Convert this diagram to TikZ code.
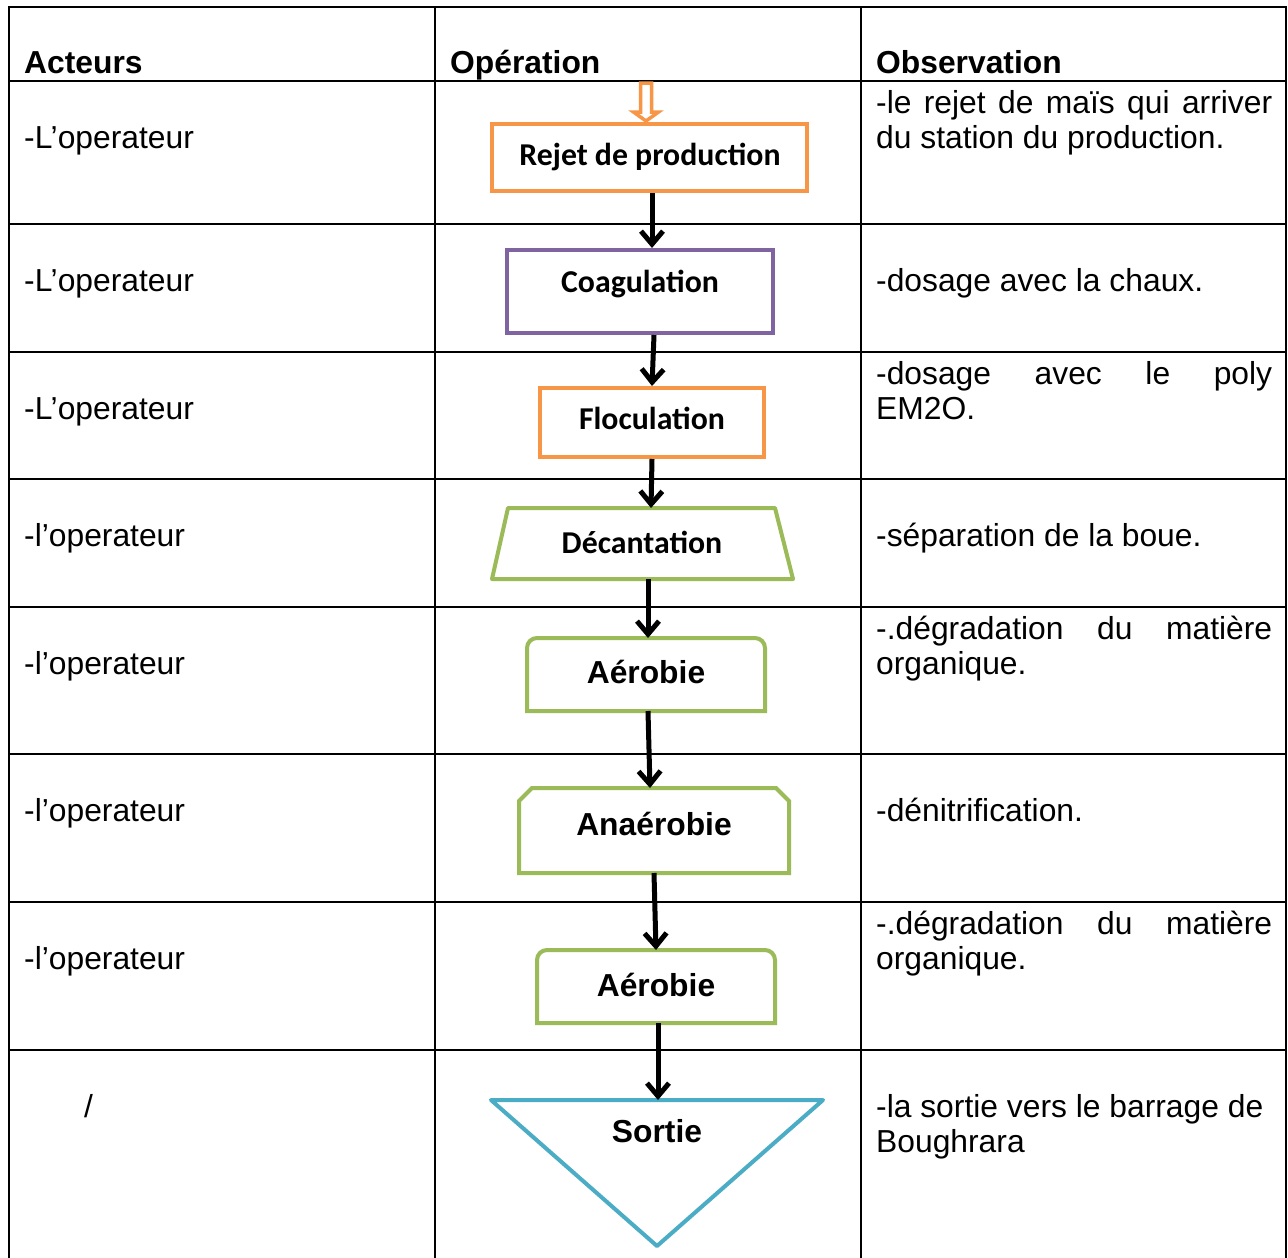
\documentclass[tikz,border=0pt]{standalone}
\usepackage{fontspec}
\setmainfont{Liberation Sans}
\newfontfamily\carlito{Carlito}
\usetikzlibrary{arrows.meta}
\definecolor{accOrange}{HTML}{F79646}
\definecolor{accPurple}{HTML}{8064A2}
\definecolor{accGreen}{HTML}{9BBB59}
\definecolor{accBlue}{HTML}{4BACC6}
\newcommand{\cellfont}{\fontsize{31.8}{35.5}\selectfont}
\begin{document}
\begin{tikzpicture}[x=1pt,y=1pt,
  gridline/.style={line width=2.7pt},
  cell/.style={anchor=base west, inner sep=0pt, font=\cellfont},
  headcell/.style={cell, font=\cellfont\bfseries},
  shapebox/.style={inner sep=0pt, line width=4pt},
  lblc/.style={anchor=base, inner sep=0pt, font=\carlito\bfseries\cellfont},
  lbla/.style={anchor=base, inner sep=0pt, font=\bfseries\cellfont},
  flow/.style={line width=5pt, -{Straight Barb[length=13pt,width=22pt]}},
]
\useasboundingbox (0,0) rectangle (1288,-1258);
\fill[white] (0,0) rectangle (1288,-1258);

% table frame and rules
\draw[gridline] (9,-1258) -- (9,-7) -- (1286,-7) -- (1286,-1258);
\foreach \y in {81,224,352,479,607,754,902,1050}
  \draw[gridline] (9,-\y) -- (1286,-\y);
\foreach \x in {435,861}
  \draw[gridline] (\x,-7) -- (\x,-1258);

% header row
\node[headcell] (hAct) at (24,-73) {Acteurs};
\node[headcell] (hOpe) at (450,-73) {Opération};
\node[headcell] (hObs) at (876,-73) {Observation};

% actors column
\node[cell] (act1) at (24,-148) {-L’operateur};
\node[cell] (act2) at (24,-291) {-L’operateur};
\node[cell] (act3) at (24,-419) {-L’operateur};
\node[cell] (act4) at (24,-546) {-l’operateur};
\node[cell] (act5) at (24,-674) {-l’operateur};
\node[cell] (act6) at (24,-821) {-l’operateur};
\node[cell] (act7) at (24,-969) {-l’operateur};
\node[cell] (act8) at (84,-1117) {/};

% observation column
\node[cell] (obs1) at (876,-113) {\parbox[t]{396pt}{\cellfont\makebox[396pt][s]{-le rejet de maïs qui arriver}\\du station du production.}};
\node[cell] (obs2) at (876,-291) {-dosage avec la chaux.};
\node[cell] (obs3) at (876,-384) {\parbox[t]{396pt}{\cellfont\makebox[396pt][s]{-dosage avec le poly}\\EM2O.}};
\node[cell] (obs4) at (876,-546) {-séparation de la boue.};
\node[cell] (obs5) at (876,-639) {\parbox[t]{396pt}{\cellfont\makebox[396pt][s]{-.dégradation du matière}\\organique.}};
\node[cell] (obs6) at (876,-821) {-dénitrification.};
\node[cell] (obs7) at (876,-934) {\parbox[t]{396pt}{\cellfont\makebox[396pt][s]{-.dégradation du matière}\\organique.}};
\node[cell] (obs8) at (876,-1117) {\parbox[t]{400pt}{\cellfont -la sortie vers le barrage de\\Boughrara}};

% process boxes
\node[shapebox, draw=accOrange, minimum width=315, minimum height=67] (rejet) at (649.5,-157.5) {};
\node[shapebox, draw=accPurple, minimum width=266, minimum height=83] (coag) at (640,-291.5) {};
\node[shapebox, draw=accOrange, minimum width=224, minimum height=69] (floc) at (652,-422.5) {};
\node[shapebox, minimum width=297, minimum height=67] (decant) at (642.5,-543.5) {};
\draw[accGreen, line width=4pt, line join=round]
  (decant.south west) -- ([xshift=16]decant.north west) -- ([xshift=-18]decant.north east) -- (decant.south east) -- cycle;
\node[shapebox, minimum width=234, minimum height=69] (aer1) at (646,-674.5) {};
\draw[accGreen, line width=4pt]
  (aer1.south west) -- ([yshift=-10]aer1.north west) arc[start angle=180,end angle=90,radius=10]
  -- ([xshift=-10]aer1.north east) arc[start angle=90,end angle=0,radius=10] -- (aer1.south east) -- cycle;
\node[shapebox, minimum width=266, minimum height=81] (anaer) at (654,-830.5) {};
\draw[accGreen, line width=4pt]
  (anaer.south west) -- ([yshift=-13]anaer.north west) -- ([xshift=13]anaer.north west)
  -- ([xshift=-13]anaer.north east) -- ([yshift=-13]anaer.north east) -- (anaer.south east) -- cycle;
\node[shapebox, minimum width=234, minimum height=69] (aer2) at (656,-986.5) {};
\draw[accGreen, line width=4pt]
  (aer2.south west) -- ([yshift=-10]aer2.north west) arc[start angle=180,end angle=90,radius=10]
  -- ([xshift=-10]aer2.north east) arc[start angle=90,end angle=0,radius=10] -- (aer2.south east) -- cycle;
\node[shapebox, minimum width=328, minimum height=142] (sortie) at (657,-1173) {};
\draw[accBlue, line width=4pt, line join=round]
  (sortie.north west) -- (sortie.north east) -- (sortie.south) -- cycle;

% box labels
\node[lblc] (rejetT) at (650,-165.5) {Rejet de production};
\node[lblc] (coagT) at (640,-292) {Coagulation};
\node[lblc] (flocT) at (652,-429) {Floculation};
\node[lblc] (decantT) at (642,-553) {Décantation};
\node[lbla] (aer1T) at (646,-683) {Aérobie};
\node[lbla] (anaerT) at (654,-835) {Anaérobie};
\node[lbla] (aer2T) at (656,-996) {Aérobie};
\node[lbla] (sortieT) at (657,-1142) {Sortie};

% inflow arrow (hollow)
\coordinate (inflow) at (646,-83);
\draw[accOrange, line width=3.5pt, fill=white, line join=miter]
  ([xshift=-5.5]inflow) -- ([xshift=5.5]inflow) -- ([xshift=5.5,yshift=-29]inflow) -- ([xshift=12.5,yshift=-29]inflow)
  -- ([yshift=1]rejet.north -| inflow) -- ([xshift=-12.5,yshift=-29]inflow) -- ([xshift=-5.5,yshift=-29]inflow) -- cycle;

% flow arrows
\draw[flow] ([xshift=2.5]rejet.south) -- ([xshift=12]coag.north);
\draw[flow] ([xshift=14]coag.south) -- (floc.north);
\draw[flow] (floc.south) -- ([xshift=8.5]decant.north);
\draw[flow] ([xshift=5.5]decant.south) -- ([xshift=2]aer1.north);
\draw[flow] ([xshift=2]aer1.south) -- ([xshift=-4]anaer.north);
\draw[flow] (anaer.south) -- (aer2.north);
\draw[flow] ([xshift=2]aer2.south) -- ([xshift=1]sortie.north);
\end{tikzpicture}
\end{document}
